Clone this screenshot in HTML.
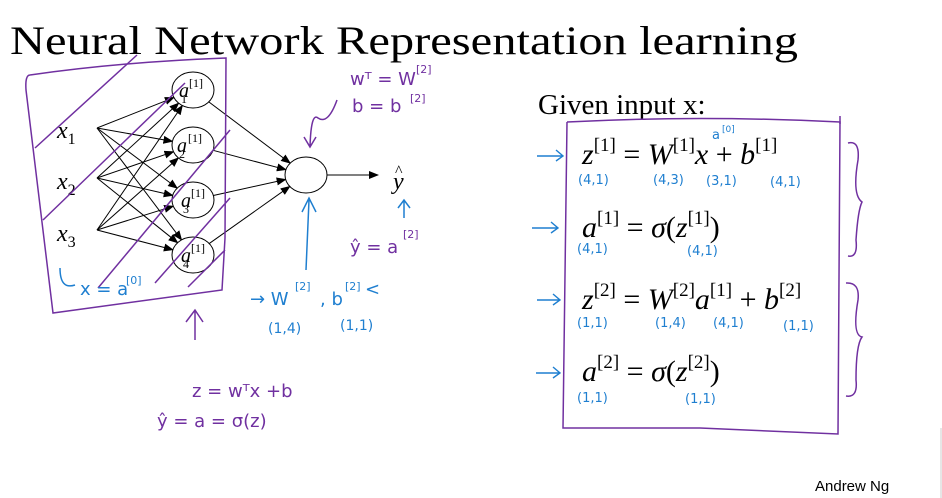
<!DOCTYPE html>
<html><head><meta charset="utf-8"><style>
html,body{margin:0;padding:0;background:#fff;width:942px;height:498px;overflow:hidden}
svg{display:block}
.hp{font-family:"DejaVu Sans","Liberation Sans",sans-serif;fill:#7030a0}
.hb{font-family:"DejaVu Sans","Liberation Sans",sans-serif;fill:#1f7fd0}
.m{font-family:"Liberation Serif",serif;font-style:italic;fill:#000}
.mr{font-family:"Liberation Serif",serif;fill:#000}
</style></head><body>
<svg id="s" width="942" height="498" viewBox="0 0 942 498" xmlns="http://www.w3.org/2000/svg">
<defs><marker id="ar" markerWidth="10" markerHeight="8" refX="9" refY="4" orient="auto" markerUnits="userSpaceOnUse"><path d="M0,0 L10,4 L0,8 z" fill="#000"/></marker></defs>
<text x="10" y="54" font-family="Liberation Serif,serif" font-size="40" textLength="788" lengthAdjust="spacingAndGlyphs">Neural Network Representation learning</text>
<g id="net" stroke="#000" stroke-width="1" fill="none"></g>
<g fill="#fff" stroke="#000" stroke-width="1">
<ellipse cx="193" cy="90" rx="21" ry="18"/><ellipse cx="193" cy="145" rx="21" ry="18"/>
<ellipse cx="193" cy="200" rx="21" ry="18"/><ellipse cx="193" cy="255" rx="21" ry="18"/>
<ellipse cx="306" cy="175" rx="21" ry="18"/></g>
<line x1="327" y1="175" x2="378" y2="175" stroke="#000" marker-end="url(#ar)"/>
<g class="m" font-size="24">
<text x="57" y="138">x<tspan font-size="16" dy="6" font-style="normal">1</tspan></text>
<text x="57" y="189">x<tspan font-size="16" dy="6" font-style="normal">2</tspan></text>
<text x="57" y="241">x<tspan font-size="16" dy="6" font-style="normal">3</tspan></text>
<text x="393" y="189">y</text><text x="395" y="176" font-size="16" font-style="normal">^</text>
</g>
<g class="m" font-size="20">
<text x="179" y="97">a</text><text x="181" y="103" font-size="12" font-style="normal">1</text><text x="189" y="87" font-size="12" font-style="normal">[1]</text>
<text x="177" y="152">a</text><text x="179" y="158" font-size="12" font-style="normal">2</text><text x="188" y="142" font-size="12" font-style="normal">[1]</text>
<text x="181" y="207">a</text><text x="183" y="213" font-size="12" font-style="normal">3</text><text x="191" y="197" font-size="12" font-style="normal">[1]</text>
<text x="181" y="262">a</text><text x="183" y="268" font-size="12" font-style="normal">4</text><text x="191" y="252" font-size="12" font-style="normal">[1]</text>
</g>
<g stroke="#7030a0" stroke-width="1.5" fill="none">
<path d="M30,75 Q25,75 26,90 L53,313 L222,290 L225,238 L226,58 Q120,62 30,75"/>
<line x1="35" y1="148" x2="137" y2="55"/>
<line x1="43" y1="220" x2="185" y2="83"/>
<line x1="98" y1="288" x2="230" y2="130"/>
<line x1="155" y1="283" x2="230" y2="198"/>
<line x1="188" y1="287" x2="225" y2="250"/>
<path d="M195,340 L195,310 M186,322 L195,310 L203,322"/>
<path d="M337,100 Q328,125 318,118 Q311,112 310,147 M304,137 L310,147 L316,137"/>
</g>
<g class="hp" font-size="18">
<text x="350" y="85">wᵀ = W</text><text x="416" y="73" font-size="11">[2]</text>
<text x="352" y="112">b = b</text><text x="410" y="102" font-size="11">[2]</text>
<text x="350" y="253">ŷ = a</text><text x="403" y="238" font-size="11">[2]</text>
<text x="192" y="397">z = wᵀx  +b</text>
<text x="157" y="427">ŷ = a = σ(z)</text>
</g>
<path d="M404,218 L404,200 M398,208 L404,200 L410,208" stroke="#1f7fd0" stroke-width="1.5" fill="none"/>
<path d="M306,270 L309,200 M302,212 L309,198 L316,212" stroke="#1f7fd0" stroke-width="1.5" fill="none"/>
<path d="M60,268 Q60,290 75,285" stroke="#1f7fd0" stroke-width="1.5" fill="none"/>
<g class="hb" font-size="18">
<text x="80" y="295">x = a</text><text x="126" y="284" font-size="11">[0]</text>
<text x="250" y="305">→ W</text><text x="295" y="290" font-size="11">[2]</text><text x="320" y="305">, b</text><text x="345" y="290" font-size="11">[2]</text><text x="365" y="295">&lt;</text>
<text x="268" y="333" font-size="14">(1,4)</text><text x="340" y="330" font-size="14">(1,1)</text>
</g>
<text x="538" y="114" font-family="Liberation Serif,serif" font-size="29">Given input x:</text>
<g stroke="#7030a0" stroke-width="1.5" fill="none">
<path d="M567,122 Q700,115 840,122 L838,434 L700,428 L563,428 L567,122"/>
<path d="M840,116 L840,124"/>
<path d="M848,143 Q860,140 858,160 Q852,195 862,202 Q858,210 856,240 Q858,258 848,256"/>
<path d="M846,283 Q860,282 858,300 Q852,335 862,337 Q856,345 856,380 Q858,398 846,396"/>
</g>
<g stroke="#1f7fd0" stroke-width="1.4" fill="none">
<path d="M537,156 L563,156 M556,150 L563,156 L556,161"/>
<path d="M532,228 L558,228 M551,222 L558,228 L551,233"/>
<path d="M537,300 L560,300 M553,294 L560,300 L553,305"/>
<path d="M536,373 L560,373 M553,367 L560,373 L553,378"/>
</g>
<g font-size="30">
<text x="582" y="164"><tspan class="m">z</tspan><tspan class="mr" font-size="19" dy="-13">[1]</tspan><tspan class="mr" dy="13"> = </tspan><tspan class="m">W</tspan><tspan class="mr" font-size="19" dy="-13">[1]</tspan><tspan class="m" dy="13">x</tspan><tspan class="mr"> + </tspan><tspan class="m">b</tspan><tspan class="mr" font-size="19" dy="-13">[1]</tspan></text>
<text x="582" y="237"><tspan class="m">a</tspan><tspan class="mr" font-size="19" dy="-13">[1]</tspan><tspan class="mr" dy="13"> = </tspan><tspan class="m">σ</tspan><tspan class="mr">(</tspan><tspan class="m">z</tspan><tspan class="mr" font-size="19" dy="-13">[1]</tspan><tspan class="mr" dy="13">)</tspan></text>
<text x="582" y="309"><tspan class="m">z</tspan><tspan class="mr" font-size="19" dy="-13">[2]</tspan><tspan class="mr" dy="13"> = </tspan><tspan class="m">W</tspan><tspan class="mr" font-size="19" dy="-13">[2]</tspan><tspan class="m" dy="13">a</tspan><tspan class="mr" font-size="19" dy="-13">[1]</tspan><tspan class="mr" dy="13"> + </tspan><tspan class="m">b</tspan><tspan class="mr" font-size="19" dy="-13">[2]</tspan></text>
<text x="582" y="381"><tspan class="m">a</tspan><tspan class="mr" font-size="19" dy="-13">[2]</tspan><tspan class="mr" dy="13"> = </tspan><tspan class="m">σ</tspan><tspan class="mr">(</tspan><tspan class="m">z</tspan><tspan class="mr" font-size="19" dy="-13">[2]</tspan><tspan class="mr" dy="13">)</tspan></text>
</g>
<g class="hb" font-size="13">
<text x="712" y="139">a</text><text x="722" y="132" font-size="9">[0]</text>
<text x="578" y="184">(4,1)</text><text x="653" y="184">(4,3)</text><text x="706" y="185">(3,1)</text><text x="770" y="186">(4,1)</text>
<text x="577" y="253">(4,1)</text><text x="687" y="255">(4,1)</text>
<text x="577" y="327">(1,1)</text><text x="655" y="327">(1,4)</text><text x="713" y="327">(4,1)</text><text x="783" y="330">(1,1)</text>
<text x="577" y="402">(1,1)</text><text x="685" y="403">(1,1)</text>
</g>
<text x="815" y="491" font-family="Liberation Sans,sans-serif" font-size="15">Andrew Ng</text>
<line x1="941" y1="428" x2="941" y2="498" stroke="#ccc"/>
</svg>
<script>
var g=document.getElementById('net'),ns='http://www.w3.org/2000/svg';
function L(x1,y1,x2,y2){var l=document.createElementNS(ns,'line');l.setAttribute('x1',x1);l.setAttribute('y1',y1);l.setAttribute('x2',x2);l.setAttribute('y2',y2);l.setAttribute('marker-end','url(#ar)');g.appendChild(l);}
function hit(sx,sy,cx,cy,rx,ry){var dx=sx-cx,dy=sy-cy,t=1/Math.sqrt(dx*dx/(rx*rx)+dy*dy/(ry*ry));return [cx+dx*t,cy+dy*t];}
var S=[[97,128],[97,178],[97,230]],H=[90,145,200,255];
S.forEach(function(s){H.forEach(function(h){var p=hit(s[0],s[1],193,h,21,18);L(s[0],s[1],p[0],p[1]);});});
H.forEach(function(h){var s=hit(306,175,193,h,21,18);var p=hit(s[0],s[1],306,175,21,18);L(s[0],s[1],p[0],p[1]);});
</script>
</body></html>
